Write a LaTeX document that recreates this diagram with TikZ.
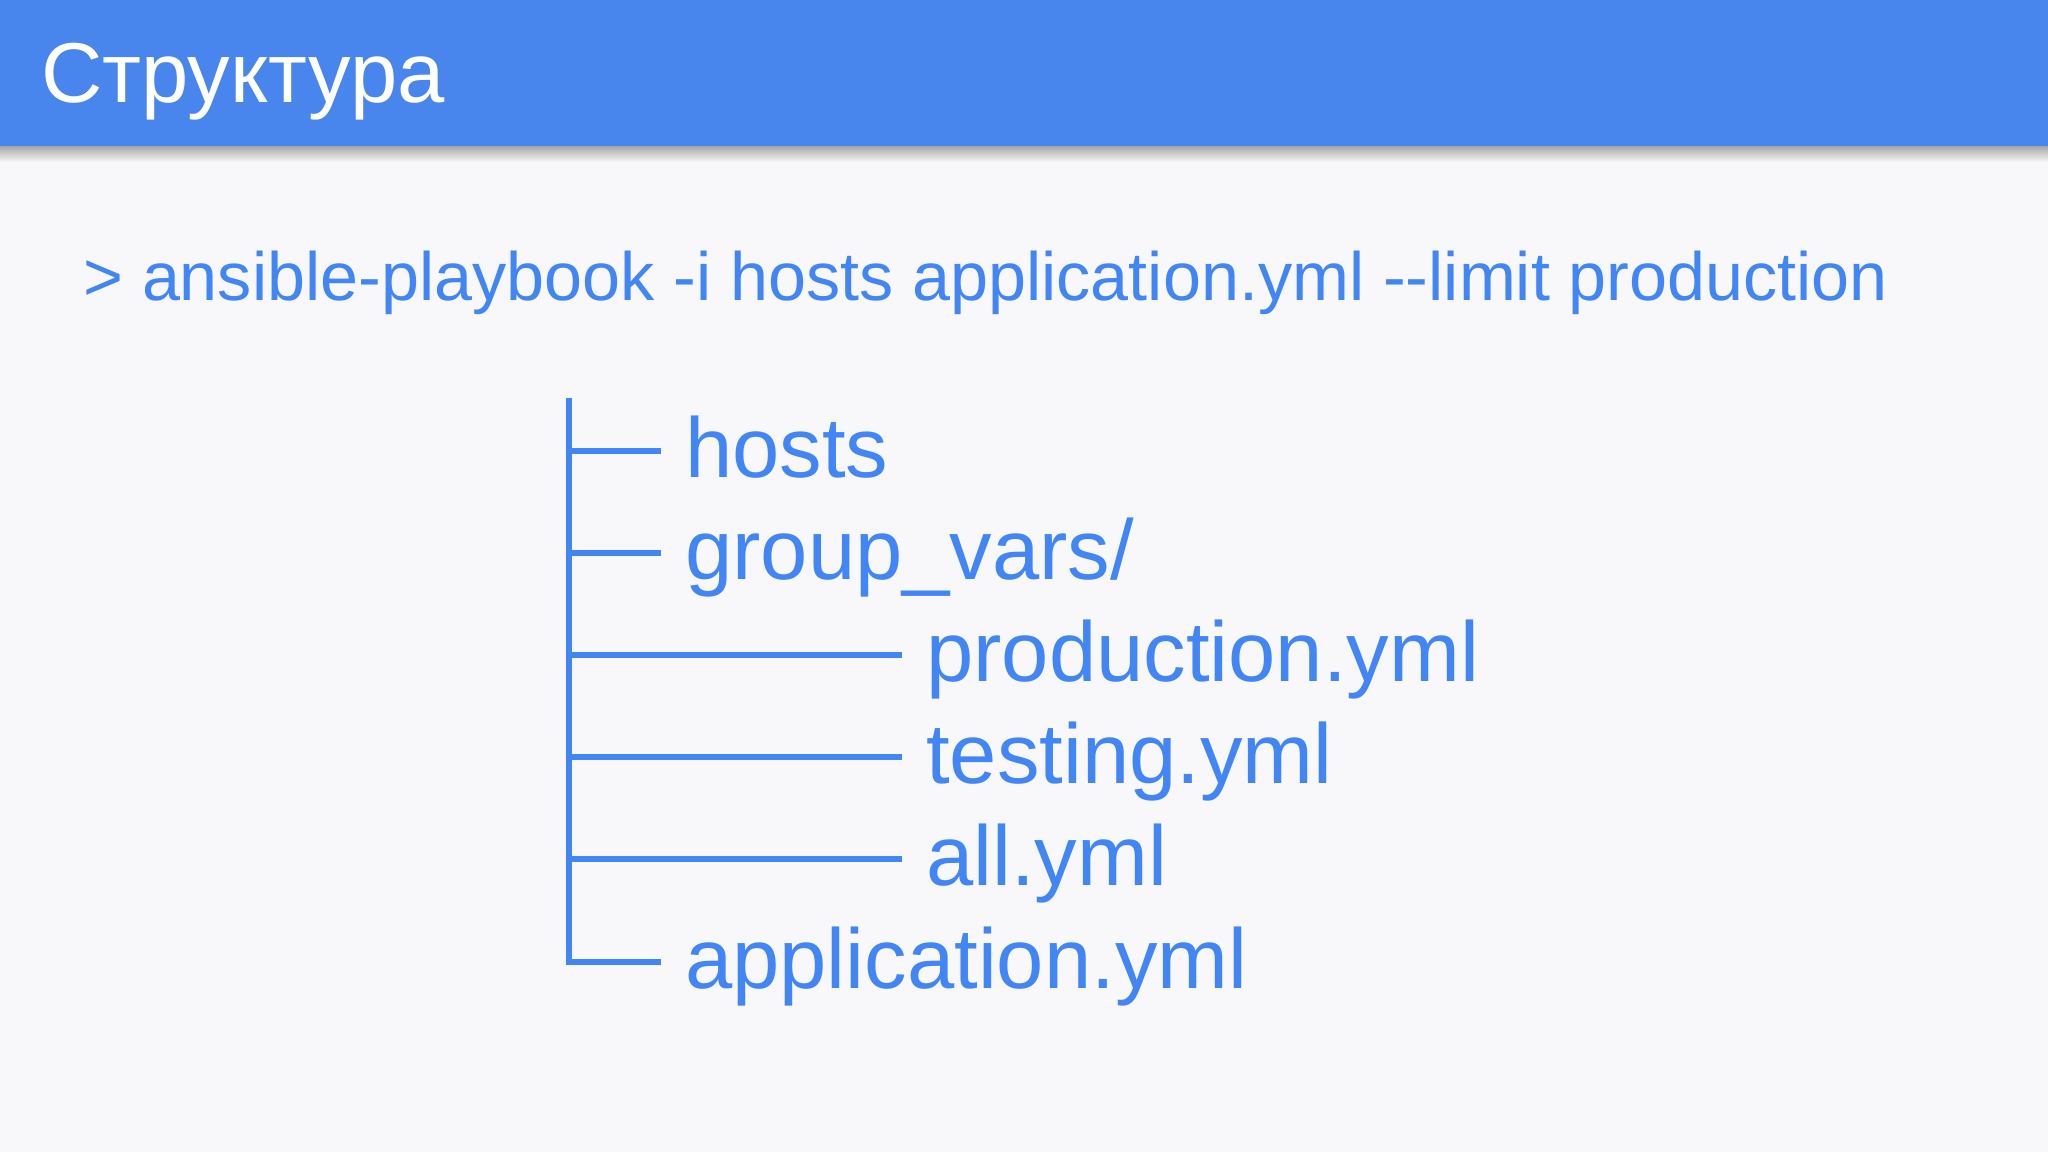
\documentclass[tikz,border=0pt]{standalone}
\usepackage{fontspec}
\setmainfont{Liberation Sans}
\definecolor{bar}{HTML}{4886EE}
\definecolor{ink}{HTML}{4285F4}
\definecolor{bg}{HTML}{F8F8FA}
\begin{document}
\begin{tikzpicture}[x=1pt,y=-1pt,
  item/.style={anchor=base west,inner sep=0pt,text=ink,font=\fontsize{85}{100}\selectfont},
  branch/.style={draw=ink,line width=6.5pt,line cap=butt,line join=miter}]
\useasboundingbox (0,0) rectangle (2048,1152);
\fill[bg] (0,0) rectangle (2048,1152);
\shade[top color=black!35,bottom color=bg] (0,146) rectangle (2048,162);
\fill[bar] (0,0) rectangle (2048,146);
\node[anchor=base west,inner sep=0pt,text=white,font=\fontsize{85}{100}\selectfont] (title) at (41,102) {Структура};
\node[anchor=base west,inner sep=0pt,text=ink,font=\fontsize{68.3}{80}\selectfont] (cmd) at (83,300) {> ansible-playbook -i hosts application.yml -{}-limit production};
% tree items
\node[item] (hosts) at (685,477) {hosts};
\node[item] (gv) at (685,579) {group\_vars/};
\node[item] (prod) at (926,681) {production.yml};
\node[item] (test) at (926,783) {testing.yml};
\node[item] (all) at (926,885) {all.yml};
\node[item] (app) at (685,988) {application.yml};
% trunk joints
\coordinate (top) at (569,398);
\coordinate (j1) at (569,451);
\coordinate (j2) at (569,553);
\coordinate (j3) at (569,655);
\coordinate (j4) at (569,757);
\coordinate (j5) at (569,859);
\coordinate (j6) at (569,962);
\draw[branch] (top) -- (j6) -- ([xshift=-24pt,yshift=26pt]app.base west);
\draw[branch] (j1) -- ([xshift=-24pt,yshift=26pt]hosts.base west);
\draw[branch] (j2) -- ([xshift=-24pt,yshift=26pt]gv.base west);
\draw[branch] (j3) -- ([xshift=-24pt,yshift=26pt]prod.base west);
\draw[branch] (j4) -- ([xshift=-24pt,yshift=26pt]test.base west);
\draw[branch] (j5) -- ([xshift=-24pt,yshift=26pt]all.base west);
\end{tikzpicture}
\end{document}
